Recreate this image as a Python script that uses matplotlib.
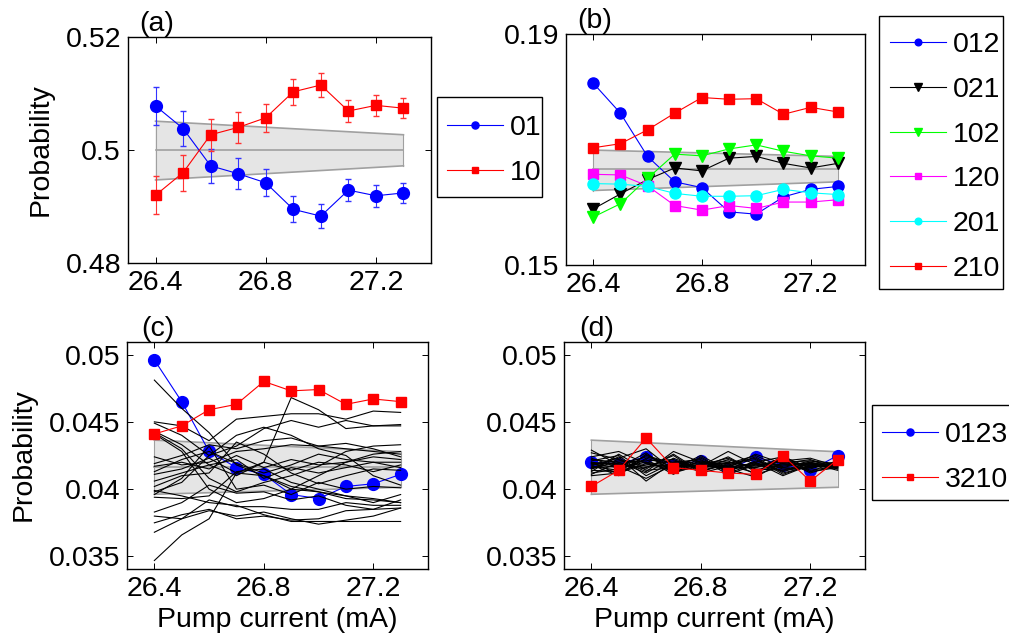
import matplotlib
matplotlib.use("Agg")
import matplotlib.pyplot as plt
from matplotlib.lines import Line2D
from matplotlib.patches import Rectangle

plt.rcParams['font.family'] = ['Liberation Sans', 'DejaVu Sans']
FS = 20.5

# ---------------- data ----------------
current = [26.4, 26.5, 26.6, 26.7, 26.8, 26.9, 27.0, 27.1, 27.2, 27.3]

# (a) two-outcome probabilities with error bars
p01 = [0.5078, 0.5038, 0.4972, 0.4958, 0.4942, 0.4895, 0.4883, 0.4929, 0.4919, 0.4924]
p01_err = [0.0033, 0.0031, 0.0030, 0.0027, 0.0024, 0.0023, 0.0021, 0.0020, 0.0019, 0.0018]
p10 = [0.4920, 0.4960, 0.5027, 0.5040, 0.5057, 0.5103, 0.5115, 0.5069, 0.5079, 0.5074]
p10_err = [0.0034, 0.0032, 0.0028, 0.0027, 0.0025, 0.0023, 0.0022, 0.0020, 0.0019, 0.0018]
band_x = [26.4, 27.3]
band_a_lo = [0.4947, 0.4972]
band_a_hi = [0.5051, 0.5027]
mean_a = 0.5

# (b) three-outcome permutations
p012 = [0.1815, 0.1763, 0.1688, 0.1644, 0.1634, 0.1592, 0.1588, 0.1618, 0.1631, 0.1636]
p021 = [0.1597, 0.1623, 0.1648, 0.1668, 0.1663, 0.1685, 0.1688, 0.1676, 0.1668, 0.1676]
p102 = [0.1583, 0.1606, 0.1650, 0.1692, 0.1689, 0.1701, 0.1708, 0.1697, 0.1689, 0.1685]
p120 = [0.1657, 0.1656, 0.1637, 0.1603, 0.1595, 0.1603, 0.1598, 0.1609, 0.1609, 0.1613]
p201 = [0.1641, 0.1640, 0.1636, 0.1624, 0.1619, 0.1619, 0.1620, 0.1631, 0.1625, 0.1622]
p210 = [0.1703, 0.1710, 0.1734, 0.1763, 0.1790, 0.1787, 0.1788, 0.1761, 0.1773, 0.1765]
band_b_lo = [0.1629, 0.1644]
band_b_hi = [0.1699, 0.1688]
mean_b = 1 / 6

# (c) four-outcome permutations
p0123_c = [0.0496, 0.0465, 0.0428, 0.0416, 0.0411, 0.0396, 0.0393, 0.0402, 0.0404, 0.0411]
p3210_c = [0.0441, 0.0447, 0.0459, 0.0463, 0.0480, 0.0473, 0.0474, 0.0463, 0.0467, 0.0465]
others_c = [
    [0.0481, 0.0460, 0.0442, 0.0418, 0.0410, 0.0400, 0.0398, 0.0395, 0.0393, 0.0390],
    [0.0450, 0.0447, 0.0436, 0.0452, 0.0454, 0.0456, 0.0456, 0.0452, 0.0458, 0.0457],
    [0.0449, 0.0440, 0.0425, 0.0432, 0.0445, 0.0451, 0.0446, 0.0451, 0.0447, 0.0448],
    [0.0443, 0.0433, 0.0418, 0.0410, 0.0420, 0.0468, 0.0459, 0.0445, 0.0447, 0.0447],
    [0.0442, 0.0430, 0.0408, 0.0398, 0.0405, 0.0410, 0.0417, 0.0428, 0.0432, 0.0433],
    [0.0441, 0.0428, 0.0400, 0.0390, 0.0393, 0.0400, 0.0410, 0.0420, 0.0426, 0.0428],
    [0.0424, 0.0418, 0.0420, 0.0428, 0.0430, 0.0433, 0.0432, 0.0430, 0.0428, 0.0426],
    [0.0419, 0.0425, 0.0433, 0.0430, 0.0436, 0.0438, 0.0432, 0.0434, 0.0430, 0.0424],
    [0.0417, 0.0420, 0.0415, 0.0425, 0.0416, 0.0422, 0.0418, 0.0420, 0.0424, 0.0422],
    [0.0413, 0.0422, 0.0428, 0.0419, 0.0412, 0.0418, 0.0426, 0.0422, 0.0420, 0.0420],
    [0.0411, 0.0415, 0.0423, 0.0412, 0.0420, 0.0414, 0.0420, 0.0418, 0.0413, 0.0418],
    [0.0406, 0.0412, 0.0418, 0.0422, 0.0408, 0.0416, 0.0412, 0.0416, 0.0420, 0.0416],
    [0.0402, 0.0410, 0.0412, 0.0435, 0.0426, 0.0412, 0.0404, 0.0410, 0.0415, 0.0414],
    [0.0398, 0.0405, 0.0425, 0.0440, 0.0446, 0.0440, 0.0430, 0.0425, 0.0410, 0.0403],
    [0.0396, 0.0408, 0.0432, 0.0400, 0.0403, 0.0396, 0.0405, 0.0400, 0.0402, 0.0401],
    [0.0394, 0.0393, 0.0395, 0.0413, 0.0415, 0.0405, 0.0400, 0.0395, 0.0390, 0.0396],
    [0.0383, 0.0390, 0.0403, 0.0397, 0.0398, 0.0392, 0.0395, 0.0388, 0.0385, 0.0392],
    [0.0380, 0.0378, 0.0392, 0.0387, 0.0387, 0.0385, 0.0385, 0.0390, 0.0388, 0.0388],
    [0.0375, 0.0381, 0.0385, 0.0378, 0.0380, 0.0377, 0.0378, 0.0384, 0.0385, 0.0386],
    [0.0368, 0.0378, 0.0384, 0.0380, 0.0383, 0.0378, 0.0374, 0.0377, 0.0380, 0.0386],
    [0.0347, 0.0366, 0.0378, 0.0412, 0.0410, 0.0402, 0.0398, 0.0393, 0.0392, 0.0390],
    [0.0399, 0.0395, 0.0390, 0.0388, 0.0381, 0.0376, 0.0376, 0.0376, 0.0376, 0.0376],
]

# (d) four-outcome permutations (second data set)
p0123_d = [0.0420, 0.0419, 0.0424, 0.0418, 0.0421, 0.0414, 0.0424, 0.0418, 0.0414, 0.0425]
p3210_d = [0.0402, 0.0414, 0.0438, 0.0416, 0.0414, 0.0412, 0.0411, 0.0425, 0.0406, 0.0422]
others_d = [
    [0.0429, 0.0418, 0.0424, 0.0419, 0.0417, 0.0428, 0.0418, 0.0420, 0.0418, 0.0417],
    [0.0427, 0.0422, 0.0413, 0.0428, 0.0420, 0.0419, 0.0425, 0.0416, 0.0421, 0.0419],
    [0.0424, 0.0428, 0.0419, 0.0415, 0.0425, 0.0414, 0.0420, 0.0424, 0.0416, 0.0420],
    [0.0423, 0.0416, 0.0427, 0.0412, 0.0418, 0.0423, 0.0414, 0.0419, 0.0422, 0.0415],
    [0.0422, 0.0420, 0.0421, 0.0422, 0.0414, 0.0418, 0.0422, 0.0413, 0.0419, 0.0418],
    [0.0421, 0.0425, 0.0410, 0.0420, 0.0422, 0.0411, 0.0418, 0.0421, 0.0413, 0.0421],
    [0.0420, 0.0411, 0.0423, 0.0417, 0.0419, 0.0421, 0.0411, 0.0417, 0.0420, 0.0416],
    [0.0419, 0.0419, 0.0416, 0.0425, 0.0412, 0.0417, 0.0424, 0.0412, 0.0417, 0.0419],
    [0.0418, 0.0423, 0.0430, 0.0414, 0.0421, 0.0416, 0.0416, 0.0423, 0.0414, 0.0417],
    [0.0417, 0.0414, 0.0418, 0.0421, 0.0416, 0.0424, 0.0413, 0.0418, 0.0419, 0.0414],
    [0.0416, 0.0417, 0.0408, 0.0418, 0.0423, 0.0413, 0.0421, 0.0415, 0.0416, 0.0420],
    [0.0415, 0.0421, 0.0420, 0.0413, 0.0417, 0.0420, 0.0417, 0.0422, 0.0412, 0.0418],
    [0.0414, 0.0413, 0.0425, 0.0419, 0.0413, 0.0419, 0.0423, 0.0411, 0.0418, 0.0416],
    [0.0413, 0.0426, 0.0414, 0.0416, 0.0420, 0.0415, 0.0409, 0.0420, 0.0421, 0.0417],
    [0.0412, 0.0415, 0.0422, 0.0411, 0.0424, 0.0412, 0.0419, 0.0416, 0.0415, 0.0421],
    [0.0411, 0.0420, 0.0412, 0.0423, 0.0415, 0.0422, 0.0415, 0.0414, 0.0420, 0.0415],
    [0.0410, 0.0412, 0.0419, 0.0416, 0.0418, 0.0416, 0.0426, 0.0419, 0.0417, 0.0418],
    [0.0415, 0.0424, 0.0406, 0.0420, 0.0416, 0.0418, 0.0412, 0.0425, 0.0413, 0.0416],
    [0.0418, 0.0410, 0.0426, 0.0413, 0.0419, 0.0414, 0.0420, 0.0410, 0.0418, 0.0419],
    [0.0420, 0.0418, 0.0415, 0.0426, 0.0413, 0.0420, 0.0416, 0.0421, 0.0423, 0.0417],
    [0.0416, 0.0422, 0.0417, 0.0418, 0.0421, 0.0417, 0.0418, 0.0414, 0.0416, 0.0420],
    [0.0419, 0.0416, 0.0420, 0.0417, 0.0417, 0.0416, 0.0419, 0.0418, 0.0419, 0.0418],
]
band_cd_lo = [0.03962, 0.04014]
band_cd_hi = [0.04364, 0.04278]
mean_cd = 1 / 24

xticks = [26.4, 26.8, 27.2]
xticklabels = ['26.4', '26.8', '27.2']

# ---------------- figure ----------------
W, H = 1009, 641
fig = plt.figure(figsize=(W / 100, H / 100), dpi=100)


def px_axes(l, t, r, b):
    return fig.add_axes([l / W, 1 - b / H, (r - l) / W, (b - t) / H])


axA = px_axes(128, 37, 431, 263)
axB = px_axes(566, 34, 865, 265)
axC = px_axes(127, 342, 428, 569)
axD = px_axes(564, 342, 865, 569)

BAND_FILL = '#e5e5e5'
BAND_EDGE = '#a0a0a0'


def draw_band(ax, lo, hi, mean):
    ax.fill_between(band_x, lo, hi, facecolor=BAND_FILL, edgecolor='none', zorder=1)
    ax.plot(band_x, lo, color=BAND_EDGE, lw=1.2, zorder=1.2)
    ax.plot(band_x, hi, color=BAND_EDGE, lw=1.2, zorder=1.2)
    ax.plot([band_x[0], band_x[0]], [lo[0], hi[0]], color=BAND_EDGE, lw=0.8, zorder=1.2)
    ax.plot([band_x[1], band_x[1]], [lo[1], hi[1]], color=BAND_EDGE, lw=0.8, zorder=1.2)
    ax.plot(band_x, [mean, mean], color=BAND_EDGE, lw=1.2, zorder=1.3)


def style(ax, ylim, yticks, yticklabels):
    ax.set_xlim(26.3, 27.4)
    ax.set_ylim(*ylim)
    ax.set_xticks(xticks)
    ax.set_xticklabels(xticklabels)
    ax.set_yticks(yticks)
    ax.set_yticklabels(yticklabels)
    ax.tick_params(direction='in', length=4, width=0.7, top=True, right=True,
                   labelsize=FS, pad=5)
    for s in ax.spines.values():
        s.set_linewidth(1.0)


# (a)
draw_band(axA, band_a_lo, band_a_hi, mean_a)
axA.errorbar(current, p01, yerr=p01_err, color='#0000ff', marker='o', ms=8.5,
             lw=0.8, elinewidth=0.8, capsize=2.5, ecolor='#3333ff', zorder=3)
axA.errorbar(current, p10, yerr=p10_err, color='#ff0000', marker='s', ms=7.5,
             lw=0.8, elinewidth=0.8, capsize=2.5, ecolor='#ff3333', zorder=3)
style(axA, (0.48, 0.52), [0.48, 0.50, 0.52], ['0.48', '0.5', '0.52'])

# (b)
draw_band(axB, band_b_lo, band_b_hi, mean_b)
series_b = [
    (p012, '012', '#0000ff', 'o', 8.0),
    (p021, '021', '#000000', 'v', 8.5),
    (p102, '102', '#00ff00', 'v', 8.5),
    (p120, '120', '#ff00ff', 's', 6.5),
    (p201, '201', '#00ffff', 'o', 8.0),
    (p210, '210', '#ff0000', 's', 6.5),
]
for vals, lab, col, mk, ms in series_b:
    axB.plot(current, vals, color=col, marker=mk, ms=ms, lw=0.8, label=lab, zorder=3)
style(axB, (0.15, 0.19), [0.15, 0.19], ['0.15', '0.19'])

# (c)
draw_band(axC, band_cd_lo, band_cd_hi, mean_cd)
axC.plot(current, p0123_c, color='#0000ff', marker='o', ms=8.5, lw=0.8, zorder=3)
for vals in others_c:
    axC.plot(current, vals, color='black', lw=0.8, zorder=3.5)
axC.plot(current, p3210_c, color='#ff0000', marker='s', ms=7.5, lw=0.8, zorder=4)
cd_ticks = [0.035, 0.04, 0.045, 0.05]
cd_labels = ['0.035', '0.04', '0.045', '0.05']
style(axC, (0.03407, 0.05093), cd_ticks, cd_labels)

# (d)
draw_band(axD, band_cd_lo, band_cd_hi, mean_cd)
axD.plot(current, p0123_d, color='#0000ff', marker='o', ms=8.5, lw=0.8, zorder=3,
         label='0123')
for vals in others_d:
    axD.plot(current, vals, color='black', lw=0.8, zorder=3.5)
axD.plot(current, p3210_d, color='#ff0000', marker='s', ms=7.5, lw=0.8, zorder=4,
         label='3210')
style(axD, (0.03407, 0.05093), cd_ticks, cd_labels)

# panel labels
for ax, lab, xc in [(axA, '(a)', 0.095), (axB, '(b)', 0.097),
                    (axC, '(c)', 0.103), (axD, '(d)', 0.109)]:
    ax.text(xc, 1.0, lab, transform=ax.transAxes, ha='center', va='bottom', fontsize=FS)

# axis labels
fig.text(41 / W, 1 - 150 / H, 'Probability', rotation=90, ha='center', va='center', fontsize=FS)
fig.text(24 / W, 1 - 455 / H, 'Probability', rotation=90, ha='center', va='center', fontsize=FS)
fig.text(277 / W, 1 - 620 / H, 'Pump current (mA)', ha='center', va='center', fontsize=FS)
fig.text(714 / W, 1 - 620 / H, 'Pump current (mA)', ha='center', va='center', fontsize=FS)

# legends (frameless, with a separately drawn box)
leg_kw = dict(loc='upper left', fontsize=FS, frameon=False, borderaxespad=0, borderpad=0,
              markerscale=0.6, handlelength=1.95, handletextpad=0.25, labelspacing=0.66,
              bbox_transform=fig.transFigure)


def box(l, t, r, b):
    fig.add_artist(Rectangle((l / W, 1 - b / H), (r - l) / W, (b - t) / H,
                             transform=fig.transFigure, fill=False, lw=1.0,
                             edgecolor='black'))


hA = [Line2D([], [], color='#0000ff', marker='o', ms=8.5, lw=0.8),
      Line2D([], [], color='#ff0000', marker='s', ms=7.5, lw=0.8)]
fig.legend(hA, ['01', '10'], bbox_to_anchor=(447 / W, 1 - 115 / H), **leg_kw)
box(437, 97, 542, 197)

hB, lB = axB.get_legend_handles_labels()
fig.legend(hB, lB, bbox_to_anchor=(890 / W, 1 - 32 / H), **leg_kw)
box(879, 16, 1003, 289)

hD, lD = axD.get_legend_handles_labels()
fig.legend(hD, lD, bbox_to_anchor=(882 / W, 1 - 422 / H), **leg_kw)
box(872, 405, 1015, 500)

fig.savefig('out.png', dpi=100)
